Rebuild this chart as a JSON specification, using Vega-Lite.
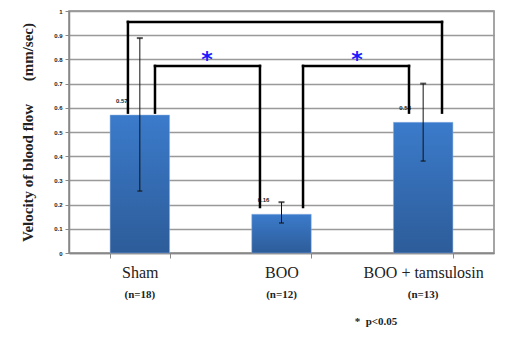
{
  "$schema": "https://vega.github.io/schema/vega-lite/v6.json",
  "width": 425,
  "height": 242,
  "autosize": {"type": "none"},
  "padding": {"left": 69, "top": 11, "right": 33, "bottom": 87},
  "background": "white",
  "config": {
    "view": {"stroke": "#888", "strokeWidth": 1.5},
    "axisY": {
      "tickCount": 10,
      "format": ".1~f",
      "labelOverlap": false,
      "labelFont": "Liberation Sans", "labelFontSize": 6, "labelFontWeight": "bold",
      "labelColor": "#222", "labelPadding": 3,
      "grid": true, "gridColor": "#999", "gridWidth": 1.5,
      "tickSize": 4, "tickColor": "#888", "domainColor": "#888", "domainWidth": 1.5,
      "titleFont": "Liberation Serif", "titleFontSize": 15,
      "titleFontWeight": "bold", "titleColor": "#222", "titlePadding": 18
    }
  },
  "datasets": {
    "groups": [
      {"group": "Sham", "value": 0.57, "lo": 0.256, "hi": 0.888, "n": "(n=18)"},
      {"group": "BOO", "value": 0.16, "lo": 0.124, "hi": 0.21, "n": "(n=12)"},
      {"group": "BOO + tamsulosin", "value": 0.54, "lo": 0.38, "hi": 0.70, "n": "(n=13)"}
    ],
    "segments": [
      {"x": 0.416, "x2": 2.633, "y": 0.955, "y2": 0.955},
      {"x": 0.416, "x2": 0.416, "y": 0.955, "y2": 0.58},
      {"x": 2.633, "x2": 2.633, "y": 0.955, "y2": 0.58},
      {"x": 0.607, "x2": 1.348, "y": 0.773, "y2": 0.773},
      {"x": 0.607, "x2": 0.607, "y": 0.773, "y2": 0.58},
      {"x": 1.348, "x2": 1.348, "y": 0.773, "y2": 0.19},
      {"x": 1.652, "x2": 2.4, "y": 0.773, "y2": 0.773},
      {"x": 1.652, "x2": 1.652, "y": 0.773, "y2": 0.19},
      {"x": 2.4, "x2": 2.4, "y": 0.773, "y2": 0.58}
    ],
    "stars": [
      {"x": 0.974, "y": 0.82, "t": "*"},
      {"x": 2.033, "y": 0.82, "t": "*"}
    ]
  },
  "layer": [
    {
      "data": {"name": "groups"},
      "encoding": {
        "x": {
          "field": "group", "type": "nominal", "sort": null,
          "scale": {"type": "band", "paddingInner": 0.58, "paddingOuter": 0.29},
          "axis": {
            "title": null, "labelAngle": 0, "labelFont": "Liberation Serif",
            "labelFontSize": 16, "labelColor": "#222", "labelPadding": 6,
            "ticks": true, "tickBand": "extent", "tickSize": 5,
            "domainColor": "#888", "tickColor": "#888", "domainWidth": 1.5
          }
        }
      },
      "layer": [
        {
          "mark": {
            "type": "bar",
            "color": {
              "gradient": "linear", "x1": 0, "y1": 0, "x2": 0, "y2": 1,
              "stops": [
                {"offset": 0, "color": "#3B7BCB"},
                {"offset": 1, "color": "#2D5C99"}
              ]
            },
            "stroke": "#8fb3e0", "strokeWidth": 0.5
          },
          "encoding": {
            "y": {
              "field": "value", "type": "quantitative",
              "scale": {"domain": [0, 1], "nice": false},
              "title": "Velocity of blood flow\u00a0\u00a0\u00a0\u00a0\u00a0\u00a0(mm/sec)"
            }
          }
        },
        {
          "mark": {"type": "rule", "color": "#111", "strokeWidth": 1},
          "encoding": {
            "y": {"field": "lo", "type": "quantitative", "scale": {"domain": [0, 1], "nice": false}, "title": "Velocity of blood flow\u00a0\u00a0\u00a0\u00a0\u00a0\u00a0(mm/sec)"},
            "y2": {"field": "hi"}
          }
        },
        {
          "mark": {"type": "tick", "color": "#111", "size": 6, "thickness": 2},
          "encoding": {
            "y": {"field": "hi", "type": "quantitative", "scale": {"domain": [0, 1], "nice": false}, "title": "Velocity of blood flow\u00a0\u00a0\u00a0\u00a0\u00a0\u00a0(mm/sec)"}
          }
        },
        {
          "mark": {"type": "tick", "color": "#111", "size": 5, "thickness": 1.5},
          "encoding": {
            "y": {"field": "lo", "type": "quantitative", "scale": {"domain": [0, 1], "nice": false}, "title": "Velocity of blood flow\u00a0\u00a0\u00a0\u00a0\u00a0\u00a0(mm/sec)"}
          }
        },
        {
          "mark": {"type": "text", "font": "Liberation Sans", "fontSize": 6, "fontWeight": "bold", "color": "#222", "dx": -18, "dy": -14},
          "encoding": {
            "y": {"field": "value", "type": "quantitative", "scale": {"domain": [0, 1], "nice": false}, "title": "Velocity of blood flow\u00a0\u00a0\u00a0\u00a0\u00a0\u00a0(mm/sec)"},
            "text": {"field": "value", "type": "quantitative", "format": ".2f"}
          }
        },
        {
          "mark": {"type": "text", "font": "Liberation Serif", "fontSize": 11, "fontWeight": "bold", "color": "#222", "dy": 42},
          "encoding": {
            "y": {"datum": 0, "type": "quantitative", "scale": {"domain": [0, 1], "nice": false}, "title": "Velocity of blood flow\u00a0\u00a0\u00a0\u00a0\u00a0\u00a0(mm/sec)"},
            "text": {"field": "n", "type": "nominal"}
          }
        }
      ]
    },
    {
      "layer": [
        {
          "data": {"name": "segments"},
          "mark": {"type": "rule", "color": "#000", "strokeWidth": 2.5, "strokeCap": "square"},
          "encoding": {
            "x": {"field": "x", "type": "quantitative", "scale": {"domain": [0, 3], "nice": false, "zero": false}, "axis": null},
            "x2": {"field": "x2"},
            "y": {"field": "y", "type": "quantitative", "scale": {"domain": [0, 1], "nice": false}, "title": "Velocity of blood flow\u00a0\u00a0\u00a0\u00a0\u00a0\u00a0(mm/sec)"},
            "y2": {"field": "y2"}
          }
        },
        {
          "data": {"name": "stars"},
          "mark": {"type": "text", "font": "DejaVu Sans", "fontSize": 22, "fontWeight": "bold", "color": "#1a1aff", "baseline": "middle", "dy": 5},
          "encoding": {
            "x": {"field": "x", "type": "quantitative", "scale": {"domain": [0, 3], "nice": false, "zero": false}, "axis": null},
            "y": {"field": "y", "type": "quantitative", "scale": {"domain": [0, 1], "nice": false}, "title": "Velocity of blood flow\u00a0\u00a0\u00a0\u00a0\u00a0\u00a0(mm/sec)"},
            "text": {"field": "t"}
          }
        },
        {
          "data": {"values": [{"note": "*\u00a0\u00a0p<0.05"}]},
          "mark": {"type": "text", "font": "Liberation Serif", "fontSize": 11, "fontWeight": "bold", "color": "#222", "baseline": "middle"},
          "encoding": {
            "x": {"datum": 2.167, "type": "quantitative", "scale": {"domain": [0, 3], "nice": false, "zero": false}, "axis": null},
            "y": {"datum": -0.285, "type": "quantitative", "scale": {"domain": [0, 1], "nice": false}, "title": "Velocity of blood flow\u00a0\u00a0\u00a0\u00a0\u00a0\u00a0(mm/sec)"},
            "text": {"field": "note"}
          }
        }
      ]
    }
  ],
  "resolve": {"scale": {"x": "independent"}}
}
